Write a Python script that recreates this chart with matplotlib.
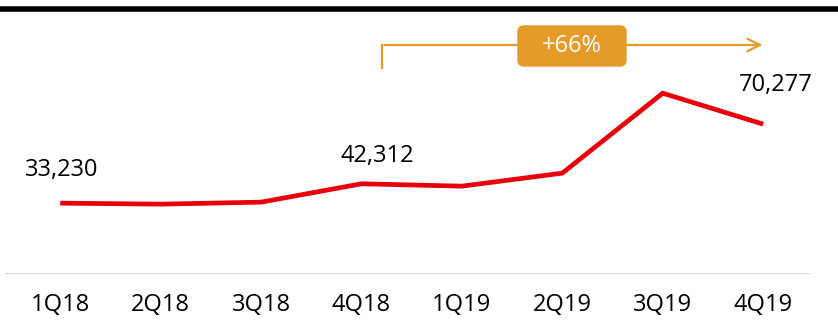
import matplotlib.pyplot as plt
from matplotlib.patches import FancyBboxPatch
from matplotlib.transforms import IdentityTransform

quarters = ['1Q18', '2Q18', '3Q18', '4Q18', '1Q19', '2Q19', '3Q19', '4Q19']
values = [33230, 32760, 33700, 42312, 41200, 47300, 84800, 70277]
labelled = {0: '33,230', 3: '42,312', 7: '70,277'}
growth = '+66%'

plt.rcParams['font.family'] = ['Open Sans', 'DejaVu Sans']

fig = plt.figure(figsize=(8.38, 3.2), dpi=100)
ax = fig.add_axes([0.006, 1 - 274 / 320, 0.961, 254 / 320])

x = list(range(len(quarters)))
ax.plot(x, values, color='#e8000b', lw=3.4, solid_capstyle='butt', solid_joinstyle='miter')

ax.set_xlim(-0.55, 7.47)
ax.set_ylim(0, 254 * 469)
ax.axhline(0, color='#d9d9d9', lw=1.5)

for s in ax.spines.values():
    s.set_visible(False)
ax.set_yticks([])
ax.set_xticks(x)
ax.set_xticklabels(quarters, fontsize=17)
ax.tick_params(axis='x', length=0, pad=14)

# data labels
offsets = {0: (1, 24), 3: (11, 20), 7: (9, 28)}
for i, txt in labelled.items():
    ax.annotate(txt, (i, values[i]), xytext=offsets[i], textcoords='offset points',
                ha='center', va='center', fontsize=17)

# growth arrow
orange = '#e59b2a'
ytop = 229 * 469
ax.plot([3.2, 3.2], [ytop, 206 * 469], color=orange, lw=1.6)
ax.annotate('', xy=(7.02, ytop), xytext=(3.2, ytop),
            arrowprops=dict(arrowstyle='->,head_length=0.9,head_width=0.45', color=orange, lw=1.6))
box = FancyBboxPatch((518, 254), 108, 40, boxstyle='round,pad=0,rounding_size=6',
                     fc=orange, ec=orange, transform=IdentityTransform(), zorder=5)
fig.add_artist(box)
fig.text(572 / 838, 274 / 320, growth, ha='center', va='center', fontsize=17,
         color='white', zorder=6)

# top rule from the slide header
fig.add_artist(plt.Line2D([0, 1], [1 - 8.5 / 320, 1 - 8.5 / 320], color='black', lw=4,
                          transform=fig.transFigure))

fig.savefig('out.png', dpi=100)
